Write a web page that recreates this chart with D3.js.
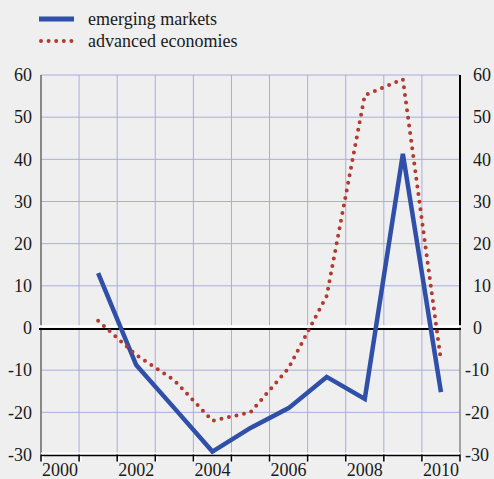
<!DOCTYPE html>
<html>
<head>
<meta charset="utf-8">
<script src="https://cdn.jsdelivr.net/npm/d3@7"></script>
<style>
  body { margin: 0; background: #efefef; }
  svg { display: block; font-family: "Liberation Serif", "Times New Roman", serif; }
</style>
</head>
<body>
<svg id="chart" width="494" height="479"></svg>
<script>
let years = [2000, 2001, 2002, 2003, 2004, 2005, 2006, 2007, 2008, 2009, 2010];
let dataYears = [2001, 2002, 2003, 2004, 2005, 2006, 2007, 2008, 2009, 2010];
let emerging = [13, -8.8, -19, -29.3, -23.7, -19, -11.6, -16.8, 41.3, -15.2];
let advanced = [1.7, -6.4, -12.4, -22, -20, -9.5, 7.6, 55.2, 59, -7.8];
let yTicks = [-30, -20, -10, 0, 10, 20, 30, 40, 50, 60];
let xLabels = ['2000', '2002', '2004', '2006', '2008', '2010'];

let svg = d3.select('#chart');

let plotL = 41, plotR = 460, plotT = 75, plotB = 454.5;

let x = d3.scaleBand().domain(years).range([plotL, plotR]).padding(0);
let y = d3.scaleLinear().domain([-30, 60]).range([plotB, plotT]);
let bw = x.bandwidth();
let cx = (yr) => x(yr) + bw / 2;

svg.append('rect').attr('width', 494).attr('height', 479).attr('fill', '#efefef');

// grid
svg.append('g').selectAll('line')
   .data(yTicks.filter(d => d > -30 && d !== 0))
   .enter().append('line')
   .attr('x1', plotL).attr('x2', plotR)
   .attr('y1', d => y(d)).attr('y2', d => y(d))
   .attr('stroke', '#a9acdc').attr('stroke-width', 1);

svg.append('g').selectAll('line')
   .data(years.slice(1))
   .enter().append('line')
   .attr('x1', d => x(d)).attr('x2', d => x(d))
   .attr('y1', plotT).attr('y2', plotB)
   .attr('stroke', '#a9acdc').attr('stroke-width', 1);

// left and right axis lines
svg.append('line').attr('x1', plotL).attr('x2', plotL).attr('y1', plotT).attr('y2', plotB)
   .attr('stroke', '#666').attr('stroke-width', 1.5);
svg.append('line').attr('x1', plotR).attr('x2', plotR).attr('y1', y(0)).attr('y2', plotB)
   .attr('stroke', '#888').attr('stroke-width', 1.5);
svg.append('line').attr('x1', plotR).attr('x2', plotR).attr('y1', plotT).attr('y2', y(0))
   .attr('stroke', '#000').attr('stroke-width', 2);

// zero line
svg.append('line').attr('x1', plotL - 2).attr('x2', plotR + 1).attr('y1', y(0) - 1.5).attr('y2', y(0) - 1.5)
   .attr('stroke', '#fff').attr('stroke-width', 2.5);
svg.append('line').attr('x1', plotL - 2).attr('x2', plotR + 1).attr('y1', y(0) + 1).attr('y2', y(0) + 1)
   .attr('stroke', '#000').attr('stroke-width', 2);

// bottom axis
let edges = years.map(d => x(d)).concat([plotR]);
svg.append('line').attr('x1', plotL).attr('x2', plotR).attr('y1', plotB - 1).attr('y2', plotB - 1)
   .attr('stroke', '#fff').attr('stroke-width', 2);
svg.append('line').attr('x1', plotL).attr('x2', plotR).attr('y1', plotB + 1).attr('y2', plotB + 1)
   .attr('stroke', '#000').attr('stroke-width', 1.5);
svg.append('g').selectAll('line')
   .data(edges)
   .enter().append('line')
   .attr('x1', d => d).attr('x2', d => d)
   .attr('y1', plotB).attr('y2', plotB + 7)
   .attr('stroke', '#000').attr('stroke-width', 1.5);
svg.append('g').selectAll('line')
   .data(edges)
   .enter().append('line')
   .attr('x1', d => d + 2).attr('x2', d => d + 2)
   .attr('y1', plotB + 2).attr('y2', plotB + 7)
   .attr('stroke', '#fff').attr('stroke-width', 1.5);

// axes labels (plain hyphen for negatives, like the original)
let fmt = d => String(d);
let yAxisL = svg.append('g').attr('transform', `translate(${plotL},0)`)
   .call(d3.axisLeft(y).tickValues(yTicks).tickFormat(fmt).tickSize(0).tickPadding(9));
let yAxisR = svg.append('g').attr('transform', `translate(${plotR},0)`)
   .call(d3.axisRight(y).tickValues(yTicks).tickFormat(fmt).tickSize(0).tickPadding(13));
let xAxis = svg.append('g').attr('transform', `translate(0,${plotB})`)
   .call(d3.axisBottom(x).tickValues(years.filter(d => d % 2 === 0)).tickFormat((d, i) => xLabels[i]).tickSize(0).tickPadding(9));

[yAxisL, yAxisR, xAxis].forEach(a => {
  a.select('.domain').remove();
  a.attr('font-family', null);
  a.selectAll('text').style('font-family', '"Liberation Serif", serif').attr('font-size', 18).attr('fill', '#1a1a1a');
});
// right side: digits line up, the minus sign hangs to the left
yAxisR.selectAll('.tick text').attr('dx', d => d < 0 ? -8 : 0);

// lines
let line = d3.line().x((d, i) => cx(dataYears[i])).y(d => y(d));

svg.append('path').datum(emerging)
   .attr('d', line)
   .attr('fill', 'none')
   .attr('stroke', '#2f4fa8')
   .attr('stroke-width', 4.5)
   .attr('stroke-linejoin', 'miter');

svg.append('path').datum(advanced)
   .attr('d', line)
   .attr('fill', 'none')
   .attr('stroke', '#b33a30')
   .attr('stroke-width', 4)
   .attr('stroke-linecap', 'round')
   .attr('stroke-dasharray', '0 7.7');

// legend
let legend = svg.append('g');
legend.append('line').attr('x1', 39).attr('x2', 74).attr('y1', 19).attr('y2', 19)
   .attr('stroke', '#2f4fa8').attr('stroke-width', 5);
legend.append('text').attr('x', 88).attr('y', 25).text('emerging markets')
   .attr('font-size', 18).attr('fill', '#1a1a1a');
legend.append('line').attr('x1', 41).attr('x2', 72).attr('y1', 41).attr('y2', 41)
   .attr('stroke', '#b33a30').attr('stroke-width', 4)
   .attr('stroke-linecap', 'round').attr('stroke-dasharray', '0 7.6');
legend.append('text').attr('x', 88).attr('y', 47).text('advanced economies')
   .attr('font-size', 18).attr('fill', '#1a1a1a');
</script>
</body>
</html>
